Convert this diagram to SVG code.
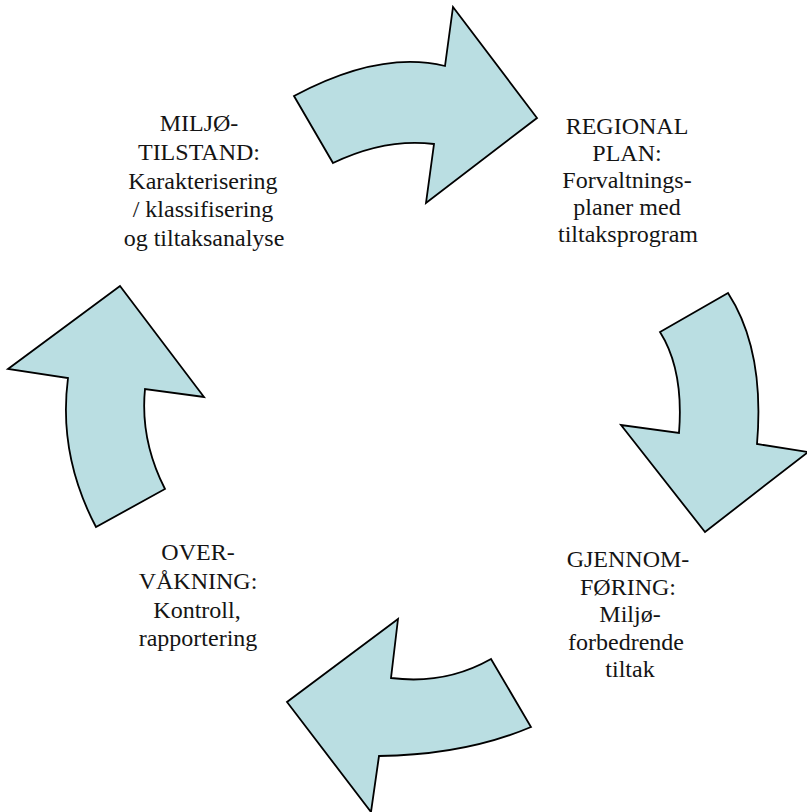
<svg xmlns="http://www.w3.org/2000/svg" width="807" height="812" viewBox="0 0 807 812">
<style>
.arrow{fill:#BADEE2;stroke:#000;stroke-width:1.8;stroke-linejoin:miter}
text.lbl{font-family:Liberation Serif, DejaVu Serif, serif;font-size:24px;fill:#141414;text-anchor:middle}
</style>
<rect width="807" height="812" fill="#fff"/>
<g id="connectors">
<path class="arrow" d="M294,96 Q380,50 445,66 L453,7 L537,118 L426,203 L434,144 Q385,138 333,163 Z"/>
<path class="arrow" d="M728,293 L660,332 Q684,370 679,433 L621,425 L705,532 L808,452 L757,444 Q765,350 728,293 Z"/>
<path class="arrow" d="M398,619 L391,678 Q445,685 491,659 L531,727 Q465,755 379,756 L371,812 L287,702 Z"/>
<path class="arrow" d="M120,286 L204,397 L145,389 Q140,440 165,489 L96,527 Q58,455 68,378 L8,369 Z"/>
</g>
<g id="node-miljotilstand">
<text class="lbl" x="199" y="131" font-family="Liberation Serif">MILJØ-</text>
<text class="lbl" x="199" y="160" font-family="Liberation Serif">TILSTAND:</text>
<text class="lbl" x="203" y="189" font-family="Liberation Serif">Karakterisering</text>
<text class="lbl" x="203" y="217" font-family="Liberation Serif">/ klassifisering</text>
<text class="lbl" x="204" y="246" font-family="Liberation Serif">og tiltaksanalyse</text>
</g>
<g id="node-regional-plan">
<text class="lbl" x="627" y="134" font-family="Liberation Serif">REGIONAL</text>
<text class="lbl" x="627" y="161" font-family="Liberation Serif">PLAN:</text>
<text class="lbl" x="627" y="188" font-family="Liberation Serif">Forvaltnings-</text>
<text class="lbl" x="627" y="215" font-family="Liberation Serif">planer med</text>
<text class="lbl" x="628" y="242" font-family="Liberation Serif">tiltaksprogram</text>
</g>
<g id="node-gjennomforing">
<text class="lbl" x="628" y="567" font-family="Liberation Serif">GJENNOM-</text>
<text class="lbl" x="628" y="595" font-family="Liberation Serif">FØRING:</text>
<text class="lbl" x="630" y="622" font-family="Liberation Serif">Miljø-</text>
<text class="lbl" x="626" y="650" font-family="Liberation Serif">forbedrende</text>
<text class="lbl" x="630" y="677" font-family="Liberation Serif">tiltak</text>
</g>
<g id="node-overvakning">
<text class="lbl" x="198" y="560" font-family="Liberation Serif">OVER-</text>
<text class="lbl" x="198" y="589" font-family="Liberation Serif">VÅKNING:</text>
<text class="lbl" x="197" y="618" font-family="Liberation Serif">Kontroll,</text>
<text class="lbl" x="198" y="646" font-family="Liberation Serif">rapportering</text>
</g>
</svg>
